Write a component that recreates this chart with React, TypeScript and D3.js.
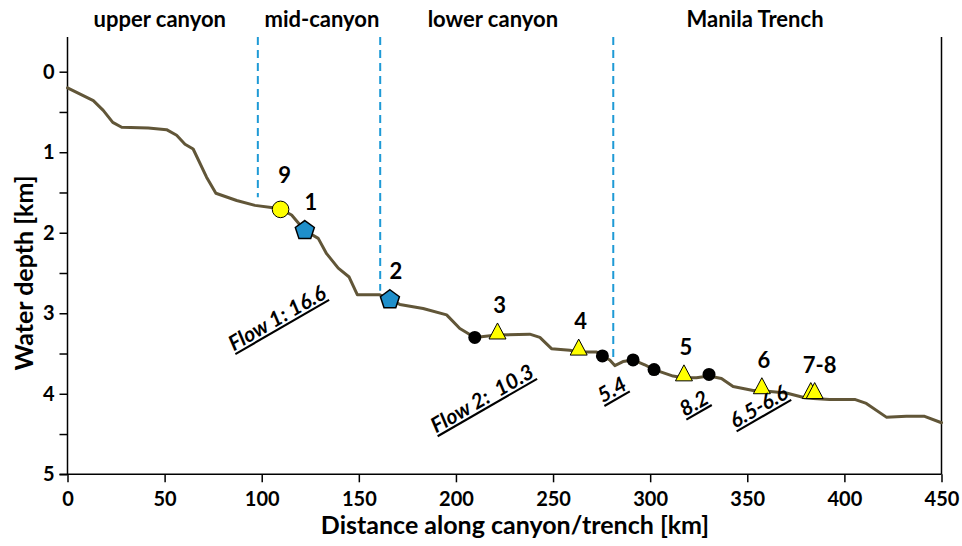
import React, { useRef, useEffect } from "react";
import * as d3 from "d3";

// profile along canyon / trench (km, km depth)
const profileKm = [0, 13.3, 18.4, 23.3, 27.9, 41.6, 51, 56.2, 60.5, 64.7, 71.6, 76.4, 87.1, 96.5, 105.9, 110, 115.4, 122, 129.1, 133.4, 139.4, 145, 149.2, 160.8, 166, 171.1, 183.1, 195.2, 202, 209.7, 221, 238, 243.2, 249.2, 258.6, 263, 272.4, 275.4, 279.2, 281.8, 286, 291.2, 297.2, 302, 311.8, 317, 323.8, 330.3, 336.7, 342.7, 353, 357, 370.1, 379.6, 384, 392.4, 405.3, 411.3, 421.6, 431.9, 441.3, 450];
const profileDepth = [0.2, 0.36, 0.48, 0.63, 0.69, 0.7, 0.72, 0.79, 0.9, 0.96, 1.31, 1.51, 1.6, 1.66, 1.69, 1.71, 1.78, 1.97, 2.07, 2.26, 2.44, 2.55, 2.77, 2.77, 2.83, 2.89, 2.94, 3.02, 3.19, 3.3, 3.27, 3.26, 3.3, 3.44, 3.46, 3.48, 3.48, 3.53, 3.58, 3.65, 3.6, 3.58, 3.64, 3.7, 3.78, 3.8, 3.8, 3.78, 3.81, 3.91, 3.96, 3.96, 3.99, 4.05, 4.06, 4.07, 4.07, 4.12, 4.29, 4.28, 4.28, 4.36];

// section boundaries (km) and where the dashed line stops (depth)
const boundaryKm = [98, 161, 281];
const boundaryEnd = [1.56, 2.72, 3.6];
const sectionNames = ["upper canyon", "mid-canyon", "lower canyon", "Manila Trench"];
const sectionKm = [47.5, 131, 219, 354];

// sites
const circleSites = [{ km: 109.7, d: 1.71, label: "9" }];
const pentagonSites = [
  { km: 122.2, d: 1.96, label: "1" },
  { km: 166, d: 2.82, label: "2" },
];
const triangleSites = [
  { km: 221.4, d: 3.22, label: "3" },
  { km: 263.2, d: 3.42, label: "4" },
  { km: 317.4, d: 3.74, label: "5" },
  { km: 357.5, d: 3.9, label: "6" },
  { km: 382.7, d: 3.96, label: "" },
  { km: 384.7, d: 3.96, label: "7-8" },
];
const dotKm = [209.7, 275.4, 291.2, 302, 330.3];
const dotDepth = [3.3, 3.53, 3.58, 3.7, 3.76];

// flow annotations
const flowText = ["Flow 1: 16.6", "Flow 2:\u00a0 10.3", "5.4", "8.2", "6.5-6.6"];
const flowKm = [108.4, 214, 280.8, 323, 356.4];
const flowDepth = [3.08, 4.08, 3.97, 4.14, 4.18];

const xTicks = [0, 50, 100, 150, 200, 250, 300, 350, 400, 450];
const yTicks = [0, 0.5, 1, 1.5, 2, 2.5, 3, 3.5, 4, 4.5, 5];

const W = 962;
const H = 546;
const FONT = "Lato, 'Open Sans', sans-serif";

const x = d3.scaleLinear().domain([0, 450]).range([67.5, 941.5]);
const y = d3.scaleLinear().domain([0, 5]).range([71.7, 474.3]);
const TOP = 37;

const pentagon = (cx: number, cy: number, r: number) =>
  d3.range(5).map((i) => {
    const a = -Math.PI / 2 + (i * 2 * Math.PI) / 5;
    return [cx + r * Math.cos(a), cy + r * Math.sin(a)].join(",");
  }).join(" ");

const triangle = (cx: number, cy: number, w: number, h: number) =>
  [[cx, cy - h / 2], [cx + w / 2, cy + h / 2], [cx - w / 2, cy + h / 2]].map((p) => p.join(",")).join(" ");

const App = () => {
  const xAxisRef = useRef<SVGGElement>(null);
  const yAxisRef = useRef<SVGGElement>(null);

  useEffect(() => {
    const xAxis = d3.axisBottom(x).tickValues(xTicks).tickSize(8).tickSizeOuter(0);
    const gx = d3.select(xAxisRef.current).call(xAxis as any);
    gx.select(".domain").remove();
    gx.selectAll("line").attr("stroke", "#000").attr("stroke-width", 1.5);
    gx.selectAll("text")
      .attr("y", 18)
      .attr("font-size", 20)
      .attr("font-weight", "bold")
      .attr("font-family", FONT)
      .attr("fill", "#000");

    const yAxis = d3
      .axisLeft(y)
      .tickValues(yTicks)
      .tickSize(8)
      .tickSizeOuter(0)
      .tickFormat((d: any) => (Number.isInteger(d) ? String(d) : ""));
    const gy = d3.select(yAxisRef.current).call(yAxis as any);
    gy.select(".domain").remove();
    gy.selectAll("line").attr("stroke", "#000").attr("stroke-width", 1.5);
    gy.selectAll("text")
      .attr("x", -13)
      .attr("font-size", 20)
      .attr("font-weight", "bold")
      .attr("font-family", FONT)
      .attr("fill", "#000");
  }, []);

  const line = d3
    .line<number>()
    .x((d, i) => x(profileKm[i]))
    .y((d) => y(d))
    .curve(d3.curveLinear);

  return (
    <svg
      width={W}
      height={H}
      style={{ position: "absolute", left: 0, top: 0, background: "#fff" }}
      fontFamily={FONT}
    >
      {/* section names */}
      {sectionNames.map((s, i) => (
        <text key={s} x={x(sectionKm[i])} y={27} textAnchor="middle" fontSize={22} fontWeight="bold">
          {s}
        </text>
      ))}

      {/* section boundaries */}
      {boundaryKm.map((k, i) => (
        <line
          key={k}
          x1={x(k)}
          x2={x(k)}
          y1={TOP}
          y2={y(boundaryEnd[i])}
          stroke="#1e9ad6"
          strokeWidth={2}
          strokeDasharray="8,5"
        />
      ))}

      {/* axes frame */}
      <line x1={x(0)} x2={x(0)} y1={TOP} y2={y(5)} stroke="#000" strokeWidth={1.5} />
      <line x1={x(450)} x2={x(450)} y1={TOP} y2={y(5)} stroke="#000" strokeWidth={1.5} />
      <line x1={x(0) - 8} x2={x(450)} y1={y(5)} y2={y(5)} stroke="#000" strokeWidth={1.5} />
      <g ref={xAxisRef} transform={`translate(0,${y(5)})`} />
      <g ref={yAxisRef} transform={`translate(${x(0)},0)`} />

      {/* profile */}
      <path
        d={line(profileDepth) || ""}
        fill="none"
        stroke="#615638"
        strokeWidth={3}
        strokeLinejoin="round"
        strokeLinecap="round"
      />

      {/* black dots */}
      {dotKm.map((k, i) => (
        <circle key={k} cx={x(k)} cy={y(dotDepth[i])} r={6.5} fill="#000" />
      ))}

      {/* yellow circle */}
      {circleSites.map((s) => (
        <g key={s.label}>
          <circle cx={x(s.km)} cy={y(s.d)} r={8.3} fill="#ffff00" stroke="#000" strokeWidth={1} />
          <text x={x(s.km) + 4} y={y(s.d) - 26} textAnchor="middle" fontSize={22} fontWeight="bold">
            {s.label}
          </text>
        </g>
      ))}

      {/* blue pentagons */}
      {pentagonSites.map((s) => (
        <g key={s.label}>
          <polygon points={pentagon(x(s.km), y(s.d) + 1, 10)} fill="#1f8fcb" stroke="#000" strokeWidth={1.5} />
          <text x={x(s.km) + 6} y={y(s.d) - 20} textAnchor="middle" fontSize={22} fontWeight="bold">
            {s.label}
          </text>
        </g>
      ))}

      {/* yellow triangles */}
      {triangleSites.map((s, i) => (
        <g key={i}>
          <polygon points={triangle(x(s.km), y(s.d), 17, 16)} fill="#ffff00" stroke="#000" strokeWidth={1} />
          {s.label && (
            <text
              x={x(s.km) + (s.label === "7-8" ? 5 : 2)}
              y={y(s.d) - 18}
              textAnchor="middle"
              fontSize={22}
              fontWeight="bold"
            >
              {s.label}
            </text>
          )}
        </g>
      ))}

      {/* flow annotations */}
      {flowText.map((t, i) => (
        <text
          key={t}
          transform={`translate(${x(flowKm[i])},${y(flowDepth[i])}) rotate(-30)`}
          textAnchor="middle"
          dominantBaseline="middle"
          fontSize={21}
          fontWeight="bold"
          fontStyle="italic"
          textDecoration="underline"
        >
          {t}
        </text>
      ))}

      {/* axis titles */}
      <text x={515} y={534} textAnchor="middle" fontSize={25} fontWeight="bold">
        Distance along canyon/trench [km]
      </text>
      <text
        transform={`translate(33,${(y(0) + y(5)) / 2}) rotate(-90)`}
        textAnchor="middle"
        fontSize={25}
        fontWeight="bold"
      >
        Water depth [km]
      </text>
    </svg>
  );
};

export default App;
